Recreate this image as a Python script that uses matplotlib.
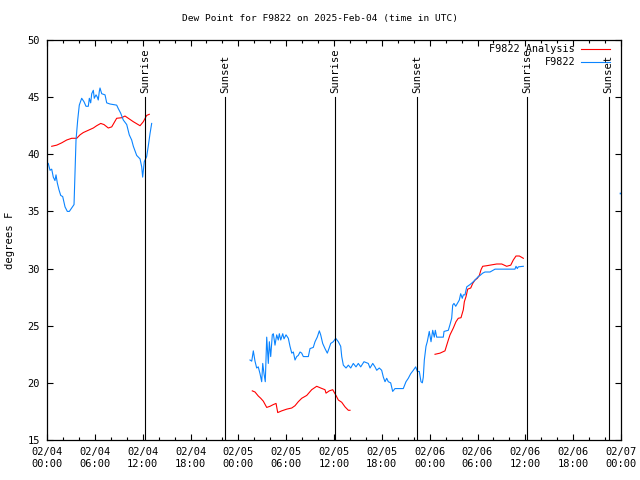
from datetime import datetime, timedelta
import numpy as np
import matplotlib
matplotlib.use("Agg")
import matplotlib.pyplot as plt
import matplotlib.dates as mdates

START = datetime(2025, 2, 4)
nan = np.nan

# hours after 02/04 00:00 UTC, dew point in degrees F
obs_hours = [
    0.16, 0.38, 0.59, 0.79, 1.0, 1.13, 1.29, 1.5, 1.72, 1.97, 2.26, 2.55, 2.8, 3.1, 3.39,
    3.51, 3.64, 3.85, 4.05, 4.35, 4.64, 4.89, 5.18, 5.31, 5.48, 5.61, 5.81, 5.93, 6.15,
    6.31, 6.43, 6.56, 6.65, 6.86, 7.28, 7.49, 7.9, 8.74, 8.94, 9.24, 9.57, 10.0, 10.32,
    10.62, 10.83, 11.25, 11.67, 11.88, 12.0, 12.2, 12.5, 12.7, 12.92, 13.13,
    nan,
    25.46, 25.68, 25.88, 26.09, 26.3, 26.5, 26.72, 26.93, 27.06, 27.22, 27.38, 27.56,
    27.76, 27.89, 28.06, 28.26, 28.39, 28.6, 28.81, 29.01, 29.14, 29.32, 29.57, 29.73,
    29.98, 30.27, 30.48, 30.7, 30.9, 31.11, 31.32, 31.52, 31.74, 31.95, 32.15, 32.78,
    32.99, 33.4, 33.62, 33.9, 34.16, 34.33, 34.58, 34.87, 35.16, 35.37, 35.59, 35.91,
    36.21, 36.54, 36.84, 36.97, 37.17, 37.51, 37.8, 38.1, 38.42, 38.76, 39.05, 39.35,
    39.76, 40.3, 40.52, 40.86, 41.14, 41.36, 41.68, 41.98, 42.19, 42.4, 42.61, 42.81,
    43.11, 43.36, 43.65, 44.28, 44.69, 45.03, 45.32, 45.62, 45.95, 46.25, 46.45, 46.7,
    46.91, 47.08, 47.2, 47.33, 47.54, 47.7, 47.95, 48.17, 48.38, 48.58, 48.71, 48.88,
    49.71, 49.8, 50.34, 50.55, 50.76, 50.89, 51.05, 51.27, 51.47, 51.72, 51.89, 52.09,
    52.22, 52.43, 52.65, 53.06, 53.4, 53.69, 54.1, 54.32, 54.65, 54.94, 55.57, 56.2,
    56.82, 58.7, 58.83, 58.99, 59.12, 59.75,
]
obs_dewpt = [
    39.2, 38.6, 38.7, 38.0, 37.7, 38.2, 37.5, 36.9, 36.4, 36.3, 35.4, 35.0, 35.0, 35.3, 35.6,
    38.3, 41.25, 43.0, 44.3, 44.9, 44.6, 44.2, 44.2, 44.9, 44.5, 45.3, 45.6, 44.9, 45.2,
    45.0, 44.75, 45.5, 45.8, 45.3, 45.2, 44.5, 44.4, 44.3, 44.0, 43.6, 43.0, 42.6, 41.7,
    41.25, 40.7, 39.9, 39.6, 38.9, 38.0, 39.35, 39.8, 40.7, 41.8, 42.7,
    nan,
    22.0, 21.9, 22.8, 21.9, 21.3, 21.4, 20.8, 20.1, 21.7, 20.8, 20.1, 24.0,
    21.7, 23.6, 22.3, 24.2, 24.3, 23.3, 24.2, 23.75, 24.3, 23.75, 24.3, 23.85,
    24.2, 23.9, 23.2, 22.6, 22.7, 22.0, 22.3, 22.4, 22.7, 22.6, 22.3, 22.3,
    23.0, 23.1, 23.6, 24.0, 24.55, 24.2, 23.45, 23.0, 22.6, 23.0, 23.45, 23.6,
    23.9, 23.6, 23.2, 22.3, 21.55, 21.3, 21.55, 21.3, 21.7, 21.4, 21.7, 21.4,
    21.85, 21.7, 21.3, 21.7, 21.4, 21.1, 21.3, 21.1, 20.5, 20.1, 20.4, 20.1,
    20.0, 19.25, 19.5, 19.5, 19.5, 20.1, 20.4, 20.8, 21.1, 21.4, 21.0, 21.0,
    20.1, 20.0, 20.5, 22.0, 23.2, 23.6, 24.5, 23.6, 24.6, 24.0, 24.6, 24.0,
    24.0, 24.5, 24.6, 25.1, 25.65, 26.8, 26.95, 26.7, 26.95, 27.25, 27.8, 27.4,
    27.7, 27.7, 28.4, 28.6, 28.8, 29.0, 29.3, 29.4, 29.6, 29.7, 29.7, 29.95,
    29.95, 29.95, 30.2, 30.0, 30.15, 30.2,
]

ana_hours = [
    0.59, 1.22, 1.84, 2.47, 3.1, 3.73, 4.14, 4.55, 5.18, 5.81, 6.23, 6.74, 7.15, 7.69,
    8.12, 8.74, 9.37, 9.78, 10.2, 10.83, 11.67, 12.08, 12.5, 12.83,
    nan,
    25.75, 26.09, 26.5, 26.81, 27.13, 27.56, 27.97, 28.39, 28.73, 28.94, 29.44, 30.07,
    30.7, 31.11, 31.52, 31.95, 32.58, 33.2, 33.83, 34.33, 34.87, 35.0, 35.41, 35.84,
    36.25, 36.54, 36.97, 37.38, 37.8, 38.01,
    nan,
    48.67, 49.3, 49.92, 50.14, 50.34, 50.55, 50.97, 51.3, 51.59, 51.93, 52.22, 52.35,
    52.56, 52.77, 53.15, 53.4, 53.69, 53.98, 54.23, 54.44, 54.65, 55.16, 55.57, 56.41,
    57.04, 57.66, 58.17, 58.49, 58.83, 59.25, 59.75,
]
ana_dewpt = [
    40.7, 40.8, 41.0, 41.25, 41.4, 41.4, 41.7, 41.9, 42.1, 42.3, 42.5, 42.7, 42.6, 42.3,
    42.4, 43.15, 43.2, 43.35, 43.15, 42.85, 42.5, 42.85, 43.4, 43.5,
    nan,
    19.3, 19.2, 18.85, 18.65, 18.4, 17.85, 17.95, 18.1, 18.2, 17.4, 17.55, 17.7,
    17.8, 18.0, 18.35, 18.65, 18.9, 19.4, 19.7, 19.55, 19.4, 19.1, 19.3, 19.4,
    18.9, 18.5, 18.3, 17.9, 17.6, 17.6,
    nan,
    22.5, 22.6, 22.8, 23.3, 23.75, 24.2, 24.8, 25.35, 25.65, 25.7, 26.4, 27.1,
    27.55, 28.2, 28.3, 28.7, 29.0, 29.15, 29.4, 29.9, 30.2, 30.25, 30.3, 30.4,
    30.4, 30.2, 30.3, 30.75, 31.1, 31.1, 30.9,
]

# lone observation at the right edge
lone_hour = [71.85]
lone_dewpt = [36.6]

sun_hours = [12.3, 22.35, 36.15, 46.4, 60.2, 70.45]
sun_labels = ["Sunrise", "Sunset", "Sunrise", "Sunset", "Sunrise", "Sunset"]

RED = "#ff0000"
BLUE = "#0a84ff"
FONT = "DejaVu Sans Mono"


def to_num(hours):
    return [mdates.date2num(START + timedelta(hours=h)) if not np.isnan(h) else np.nan
            for h in hours]


def plot_dew_point():
    fig = plt.figure(figsize=(6.4, 4.8), dpi=100)
    ax = fig.add_axes([47 / 640, 40 / 480, 574 / 640, 400 / 480])

    ax.plot(to_num(ana_hours), ana_dewpt, color=RED, lw=0.8)
    ax.plot(to_num(obs_hours), obs_dewpt, color=BLUE, lw=0.8)
    ax.plot(to_num(lone_hour), lone_dewpt, ls="none", marker="s", ms=1.2, color=BLUE, mew=0)

    for h, lab in zip(sun_hours, sun_labels):
        x = mdates.date2num(START + timedelta(hours=h))
        ax.plot([x, x], [15, 45], color="black", lw=0.8)
        ax.text(x, 45.35, lab, rotation=90, ha="center", va="bottom",
                fontsize=7.6, family=FONT)

    ax.set_xlim(mdates.date2num(START), mdates.date2num(START + timedelta(hours=72)))
    ax.set_ylim(15, 50)
    ax.set_yticks(range(15, 51, 5))

    ax.xaxis.set_major_locator(mdates.HourLocator(byhour=[0, 6, 12, 18]))
    ax.xaxis.set_minor_locator(mdates.HourLocator(byhour=range(0, 24, 2)))
    ax.xaxis.set_major_formatter(mdates.DateFormatter("%m/%d\n%H:%M"))

    ax.tick_params(which="both", direction="in", top=True, right=True, width=0.8,
                   labelsize=7.5, colors="black")
    ax.tick_params(which="major", length=4.5, pad=5)
    ax.tick_params(which="minor", length=2.5)
    for lbl in ax.get_xticklabels() + ax.get_yticklabels():
        lbl.set_family(FONT)
    for sp in ax.spines.values():
        sp.set_linewidth(0.9)

    ax.set_ylabel("degrees F", fontsize=7.6, family=FONT)
    ax.yaxis.set_label_coords(-0.056, 0.5)
    fig.text(0.5, 1 - 19 / 480, "Dew Point for F9822 on 2025-Feb-04 (time in UTC)",
             ha="center", va="center", fontsize=6.8, family=FONT)

    # legend, gnuplot style: text right aligned, sample line after it
    for y, txt, col in [(0.9775, "F9822 Analysis", RED), (0.945, "F9822", BLUE)]:
        ax.text(0.92, y, txt, transform=ax.transAxes, ha="right", va="center",
                fontsize=7.3, family=FONT)
        ax.plot([0.93, 0.981], [y, y], transform=ax.transAxes, color=col, lw=0.8)

    fig.savefig("out.png", dpi=100)


plot_dew_point()
